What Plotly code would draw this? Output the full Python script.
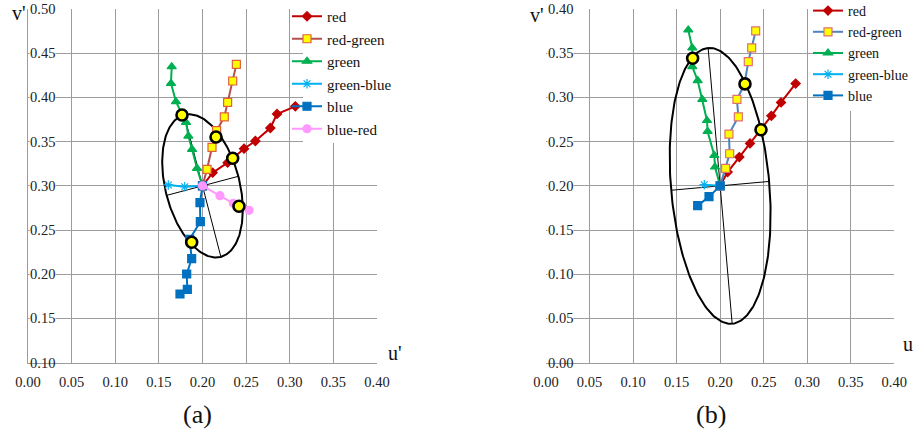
import numpy as np
import plotly.graph_objects as go

# ---------------- data: panel (a) ----------------
red_a_u = [0.200, 0.2117, 0.2288, 0.2476, 0.2606, 0.2777, 0.2854, 0.3064]
red_a_v = [0.300, 0.3149, 0.3262, 0.3420, 0.3507, 0.3654, 0.3813, 0.3899]
rg_a_u = [0.200, 0.2052, 0.2109, 0.2162, 0.2250, 0.2288, 0.2346, 0.2388]
rg_a_v = [0.300, 0.3187, 0.3436, 0.3624, 0.3779, 0.3944, 0.4186, 0.4374]
green_a_u = [0.200, 0.1937, 0.1880, 0.1838, 0.1811, 0.1696, 0.1639, 0.1647]
green_a_v = [0.300, 0.3198, 0.3413, 0.3563, 0.3718, 0.3952, 0.4159, 0.4348]
gb_a_u = [0.200, 0.1796, 0.1608]
gb_a_v = [0.300, 0.2990, 0.3010]
blue_a_u = [0.200, 0.1971, 0.1975, 0.1853, 0.1876, 0.1819, 0.1826, 0.1742]
blue_a_v = [0.300, 0.2810, 0.2595, 0.2395, 0.2176, 0.2003, 0.1830, 0.1777]
br_a_u = [0.200, 0.2200, 0.2353, 0.2533]
br_a_v = [0.300, 0.2889, 0.2803, 0.2723]
yel_a_u = [0.1765, 0.2155, 0.2346, 0.2418, 0.1876]
yel_a_v = [0.3801, 0.3552, 0.3312, 0.2769, 0.2362]
# ellipse (a): center, semi-major, semi-minor, angle of major axis (deg)
ell_a = dict(cx=0.200, cy=0.300, a=0.083, b=0.0425, ang=104.7)

# ---------------- data: panel (b) ----------------
red_b_u = [0.200, 0.2086, 0.2220, 0.2343, 0.2465, 0.2588, 0.2699, 0.2867]
red_b_v = [0.200, 0.2156, 0.2325, 0.2480, 0.2634, 0.2792, 0.2943, 0.3157]
rg_b_u = [0.200, 0.2063, 0.2109, 0.2101, 0.2209, 0.2193, 0.2280, 0.2323, 0.2362, 0.2408]
rg_b_v = [0.200, 0.2198, 0.2363, 0.2585, 0.2781, 0.2977, 0.3153, 0.3405, 0.3560, 0.3752]
green_b_u = [0.200, 0.1941, 0.1933, 0.1856, 0.1849, 0.1795, 0.1742, 0.1680, 0.1680, 0.1634]
green_b_v = [0.200, 0.2213, 0.2344, 0.2615, 0.2739, 0.2977, 0.3191, 0.3349, 0.3560, 0.3763]
gb_b_u = [0.200, 0.1818]
gb_b_v = [0.200, 0.2013]
blue_b_u = [0.200, 0.1872, 0.1742]
blue_b_v = [0.200, 0.1878, 0.1776]
yel_b_u = [0.1684, 0.2285, 0.2469]
yel_b_v = [0.3443, 0.3153, 0.2634]
ell_b = dict(cx=0.200, cy=0.200, a=0.1565, b=0.0565, ang=95.06)

x_ticks = [0.00, 0.05, 0.10, 0.15, 0.20, 0.25, 0.30, 0.35, 0.40]
y_ticks_a = [0.10, 0.15, 0.20, 0.25, 0.30, 0.35, 0.40, 0.45, 0.50]
y_ticks_b = [0.00, 0.05, 0.10, 0.15, 0.20, 0.25, 0.30, 0.35, 0.40]

FONT = "Liberation Serif"
GRID = "#9C9C9C"
C_RED = "#C00000"
C_GREEN = "#00B050"
C_GB = "#00B0F0"
C_BLUE = "#0070C0"
C_BR = "#FF99FF"

fig = go.Figure()

# blank entries: they only give the two white legend boxes that hide the grid
for leg in ["legend", "legend2"]:
    fig.add_trace(go.Scatter(x=[None], y=[None], mode="lines", name="\u00a0",
                             line=dict(color="white", width=0.1), legend=leg,
                             hoverinfo="skip"))


def ellipse(p, n=240):
    t = np.linspace(0, 2 * np.pi, n)
    th = np.radians(p["ang"])
    x = p["cx"] + p["a"] * np.cos(t) * np.cos(th) - p["b"] * np.sin(t) * np.sin(th)
    y = p["cy"] + p["a"] * np.cos(t) * np.sin(th) + p["b"] * np.sin(t) * np.cos(th)
    return x, y


def axes_lines(p):
    th = np.radians(p["ang"])
    dx, dy = np.cos(th), np.sin(th)
    px_, py_ = -dy, dx
    xs = [p["cx"] - p["a"] * dx, p["cx"] + p["a"] * dx, None,
          p["cx"] - p["b"] * px_, p["cx"] + p["b"] * px_]
    ys = [p["cy"] - p["a"] * dy, p["cy"] + p["a"] * dy, None,
          p["cy"] - p["b"] * py_, p["cy"] + p["b"] * py_]
    return xs, ys


def add_panel(xa, ya, leg, ell, series, yel_u, yel_v):
    ex, ey = ellipse(ell)
    fig.add_trace(go.Scatter(x=ex, y=ey, mode="lines", line=dict(color="black", width=2),
                             showlegend=False, hoverinfo="skip", xaxis=xa, yaxis=ya))
    ax, ay = axes_lines(ell)
    fig.add_trace(go.Scatter(x=ax, y=ay, mode="lines", line=dict(color="black", width=1),
                             showlegend=False, hoverinfo="skip", xaxis=xa, yaxis=ya))
    for name, u, v, lc, msym, msize, mfill, mline in series:
        fig.add_trace(go.Scatter(
            x=u, y=v, name=name, mode="lines+markers",
            line=dict(color=lc, width=2),
            marker=dict(symbol=msym, size=msize, color=mfill,
                        line=dict(color=mline, width=1.2)),
            legend=leg, xaxis=xa, yaxis=ya))
    fig.add_trace(go.Scatter(x=yel_u, y=yel_v, mode="markers",
                             marker=dict(symbol="circle", size=11, color="#FFFF00",
                                         line=dict(color="black", width=2.6)),
                             showlegend=False, xaxis=xa, yaxis=ya))


series_a = [
    ("red", red_a_u, red_a_v, C_RED, "diamond", 7, C_RED, C_RED),
    ("red-green", rg_a_u, rg_a_v, "#B5504D", "square", 8, "#FFFF00", "#E0603A"),
    ("green", green_a_u, green_a_v, C_GREEN, "triangle-up", 8, C_GREEN, C_GREEN),
    ("green-blue", gb_a_u, gb_a_v, C_GB, "asterisk", 8, C_GB, C_GB),
    ("blue", blue_a_u, blue_a_v, C_BLUE, "square", 8, C_BLUE, C_BLUE),
    ("blue-red", br_a_u, br_a_v, C_BR, "circle", 8, C_BR, C_BR),
]
series_b = [
    ("red", red_b_u, red_b_v, C_RED, "diamond", 7, C_RED, C_RED),
    ("red-green", rg_b_u, rg_b_v, "#4F81BD", "square", 8, "#FFFF00", "#E07070"),
    ("green", green_b_u, green_b_v, C_GREEN, "triangle-up", 8, C_GREEN, C_GREEN),
    ("green-blue", gb_b_u, gb_b_v, C_GB, "asterisk", 8, C_GB, C_GB),
    ("blue", blue_b_u, blue_b_v, C_BLUE, "square", 8, C_BLUE, C_BLUE),
]

add_panel("x", "y", "legend3", ell_a, series_a, yel_a_u, yel_a_v)
add_panel("x2", "y2", "legend4", ell_b, series_b, yel_b_u, yel_b_v)

W, H = 913, 431


def xaxis_cfg(l, r):
    return dict(domain=[l / W, r / W], range=[0, 0.4], tickvals=x_ticks, tickformat=".2f",
                showgrid=True, gridcolor=GRID, gridwidth=1.2, zeroline=False,
                showline=True, linecolor=GRID, linewidth=1.2,
                ticks="outside", ticklen=6, tickcolor="rgba(0,0,0,0)",
                tickfont=dict(family=FONT, size=14.5, color="#222"), fixedrange=True)


def yaxis_cfg(rng, ticks):
    return dict(domain=[(H - 362.7) / H, (H - 9) / H], range=rng, tickvals=ticks,
                showticklabels=False, showgrid=True, gridcolor=GRID, gridwidth=1.2,
                zeroline=False, showline=True, linecolor=GRID, linewidth=1.2,
                ticks="", fixedrange=True)


annotations = []
for xr, yr, ticks in [("x", "y", y_ticks_a), ("x2", "y2", y_ticks_b)]:
    for i, t in enumerate(ticks):
        annotations.append(dict(x=0, y=t, xref=xr, yref=yr, text=f"{t:.2f}", showarrow=False,
                                xanchor="left", yanchor="middle", xshift=1,
                                font=dict(family=FONT, size=14.5, color="#222"),
                                bgcolor="white" if i > 0 else "rgba(0,0,0,0)", borderpad=0))

titles = [("v'", 10, 13), ("u'", 386, 353), ("v'", 528, 15), ("u", 901, 344)]
for txt, px, py in titles:
    annotations.append(dict(x=px / W, y=1 - py / H, xref="paper", yref="paper", text=txt,
                            showarrow=False, xanchor="left", yanchor="middle",
                            font=dict(family=FONT, size=20, color="#111")))
for txt, px in [("(a)", 197), ("(b)", 711)]:
    annotations.append(dict(x=px / W, y=1 - 414 / H, xref="paper", yref="paper", text=txt,
                            showarrow=False, xanchor="center", yanchor="middle",
                            font=dict(family=FONT, size=26, color="#111")))

fig.update_layout(
    width=W, height=H, margin=dict(l=0, r=0, t=0, b=0, autoexpand=False),
    paper_bgcolor="white", plot_bgcolor="white",
    xaxis=xaxis_cfg(28, 377), yaxis=yaxis_cfg([0.1, 0.5], y_ticks_a),
    xaxis2=xaxis_cfg(546, 894.3), yaxis2=yaxis_cfg([0, 0.4], y_ticks_b),
    # white boxes
    legend=dict(x=303 / W, y=1, xanchor="left", yanchor="top", bgcolor="white",
                font=dict(family=FONT, size=100, color="white"), itemwidth=80),
    legend2=dict(x=823 / W, y=1, xanchor="left", yanchor="top", bgcolor="white",
                 font=dict(family=FONT, size=75, color="white"), itemwidth=72),
    # real legends
    legend3=dict(x=287 / W, y=1, xanchor="left", yanchor="top", bgcolor="rgba(0,0,0,0)",
                 font=dict(family=FONT, size=15, color="#111"), itemwidth=30,
                 tracegroupgap=0),
    legend4=dict(x=808 / W, y=1 + 5 / H, xanchor="left", yanchor="top",
                 bgcolor="rgba(0,0,0,0)",
                 font=dict(family=FONT, size=14, color="#111"), itemwidth=30,
                 tracegroupgap=0),
    annotations=annotations, showlegend=True,
)

fig.write_html("out.html")
